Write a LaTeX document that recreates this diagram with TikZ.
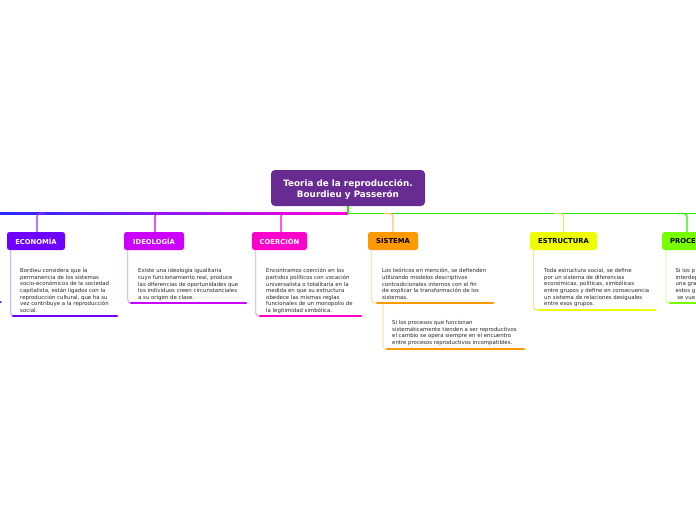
\documentclass[tikz,border=0pt]{standalone}
\usepackage{fontspec}
\setmainfont{DejaVu Sans}
\usetikzlibrary{calc}
\definecolor{cRoot}{RGB}{104,43,145}
\definecolor{cEco}{RGB}{110,0,255}
\definecolor{cIdeo}{RGB}{204,0,255}
\definecolor{cCoer}{RGB}{255,0,204}
\definecolor{cSis}{RGB}{255,153,0}
\definecolor{cEstr}{RGB}{238,255,0}
\definecolor{cProc}{RGB}{119,255,0}
\definecolor{cGreen}{RGB}{40,235,0}
\definecolor{cBlue}{RGB}{40,40,255}
\definecolor{cMag}{RGB}{255,0,220}
\definecolor{bodygray}{RGB}{40,40,40}
\begin{document}
\begin{tikzpicture}[x=1pt,y=-1pt,
  rootbox/.style={fill=cRoot, rounded corners=4pt, minimum width=154pt, minimum height=36pt, inner sep=0pt},
  roottext/.style={align=center, text=white, font=\fontsize{8.8}{11}\selectfont\bfseries, inner sep=0pt},
  hdr/.style={rounded corners=2.5pt, minimum height=18pt, inner sep=0pt,
    font=\fontsize{6.8}{8}\selectfont\bfseries},
  body/.style={anchor=north west, align=left, inner sep=0pt,
    font=\fontsize{5.4}{6.6}\selectfont, text=bodygray},
  stub/.style={line width=1.2pt, rounded corners=3pt},
  side/.style={line width=0.8pt, rounded corners=3pt},
  uline/.style={line width=2.6pt, line cap=round},
]
\useasboundingbox (0,0) rectangle (696,520);
\clip (0,0) rectangle (696,520);
\fill[white] (0,0) rectangle (696,520);

% root
\node[rootbox] (root) at (348,188) {};
\node[roottext] (rootT) at (348,189.5) {Teoria de la reproducción.\\Bourdieu y Passerón};
\coordinate (hl) at (348,213.5);
\coordinate (hr) at (700,213.5);

% main horizontal lines
\shade[left color=cBlue, right color=cMag] (0,212.9) rectangle (348,214.1);
\draw[cGreen, line width=1.5pt] (root.south) -- (hl) -- (hr);

% headers
\node[hdr, fill=cEco, text=white, minimum width=58pt] (eco) at (36,241) {ECONOMÍA};
\node[hdr, fill=cIdeo, text=white, minimum width=60pt] (ideo) at (154,241) {IDEOLOGÍA};
\node[hdr, fill=cCoer, text=white, minimum width=55pt] (coer) at (279.5,241) {COERCIÓN};
\node[hdr, fill=cSis, text=black, minimum width=50pt] (sis) at (393,241) {SISTEMA};
\node[hdr, fill=cEstr, text=black, minimum width=67pt] (estr) at (563.5,241) {ESTRUCTURA};
\node[hdr, fill=cProc, minimum width=70pt, anchor=west] (proc) at (662,241) {};
\node[hdr, anchor=west, text=black] (procH) at (670,241) {PROCE};

% stubs
\draw[stub, cEco!80!white] ($(eco.north)+(1,0)$) |- ($(eco.north |- hl)+(9,0)$);
\draw[stub, cIdeo] ($(ideo.north)+(1,0)$) |- ($(ideo.north |- hl)+(9,0)$);
\draw[stub, cCoer] ($(coer.north)+(1.5,0)$) |- ($(coer.north |- hl)+(9,0)$);
\draw[stub, cSis!60!white] (sis.north) |- ($(sis.north |- hl)+(-9,0)$);
\draw[stub, cEstr!75!gray!70!white] (estr.north) |- ($(estr.north |- hl)+(-9,0)$);
\draw[stub, cGreen] ($(proc.north west)+(25,0)$) |- ($(proc.north west |- hl)+(16,0)$);

% body texts
\node[body] (ecoT) at (20,268.3) {Bordieu considera que la\\permanencia de los sistemas\\socio-económicos de la sociedad\\capitalista, están ligados con la\\reproducción cultural, que ha su\\vez contribuye a la reproducción\\social.};
\node[body] (ideoT) at (138,268.3) {Existe una ideología igualitaria\\cuyo funcionamiento real, produce\\las diferencias de oportunidades que\\los individuos creen circunstanciales\\a su origen de clase.};
\node[body] (coerT) at (266,268.3) {Encontramos coerción en los\\partidos políticos con vocación\\universalista o totalitaria en la\\medida en que su estructura\\obedece las mismas reglas\\funcionales de un monopolio de\\la legitimidad simbólica.};
\node[body] (sisT) at (382,268.3) {Los teóricos en mención, se defienden\\utilizando modelos descriptivos\\contradicionales internos con el fin\\de explicar la transformación de los\\sistemas.};
\node[body] (sis2T) at (392,320.3) {Si los procesos que funcionan\\sistemáticamente tienden a ser reproductivos\\el cambio se opera siempre en el encuentro\\entre procesos reproductivos incompatibles.};
\node[body] (estrT) at (544,268.3) {Toda estructura social, se define\\por un sistema de diferencias\\económicas, políticas, simbólicas\\entre grupos y define en consecuencia\\un sistema de relaciones desiguales\\entre esos grupos.};
\node[body] (procT) at (675.5,268.3) {Si los p\\interdep\\una gra\\estos g\\\hspace{1.6pt}se vue};

% underline coordinates
\coordinate (ecoU) at (13,316);  \coordinate (ecoE) at (117,316);
\coordinate (ideoU) at (131,303); \coordinate (ideoE) at (246,303);
\coordinate (coerU) at (260,316); \coordinate (coerE) at (361,316);
\coordinate (sisU) at (377,303);  \coordinate (sisE) at (493,303);
\coordinate (sis2U) at (387,349); \coordinate (sis2E) at (524,349);
\coordinate (estrU) at (538,310); \coordinate (estrE) at (655,310);
\coordinate (procU) at (670,303); \coordinate (procE) at (710,303);

% side lines
\draw[side, cEco!45!white] ($(eco.south west)+(4,0)$) |- (ecoU);
\draw[side, cIdeo!45!white] ($(ideo.south west)+(4,0)$) |- (ideoU);
\draw[side, cCoer!45!white] ($(coer.south west)+(4,0)$) |- (coerU);
\draw[side, cSis!45!white] ($(sis.south west)+(4,0)$) |- (sisU);
\draw[side, cSis!45!white] ($(sisU)+(6,1)$) |- (sis2U);
\draw[side, cEstr!60!gray!60!white] ($(estr.south west)+(4,0)$) |- (estrU);
\draw[side, cProc!50!white] ($(proc.south west)+(4,0)$) |- (procU);

% underlines
\draw[uline, cEco] (ecoU) -- (ecoE);
\draw[uline, cIdeo] (ideoU) -- (ideoE);
\draw[uline, cCoer] (coerU) -- (coerE);
\draw[uline, cSis] (sisU) -- (sisE);
\draw[uline, cSis] (sis2U) -- (sis2E);
\draw[uline, cEstr] (estrU) -- (estrE);
\draw[uline, cProc] (procU) -- (procE);

% end of an off-picture branch
\coordinate (offB) at (-4,302);
\draw[uline, cBlue] (offB) -- (0.5,302);
\end{tikzpicture}
\end{document}
